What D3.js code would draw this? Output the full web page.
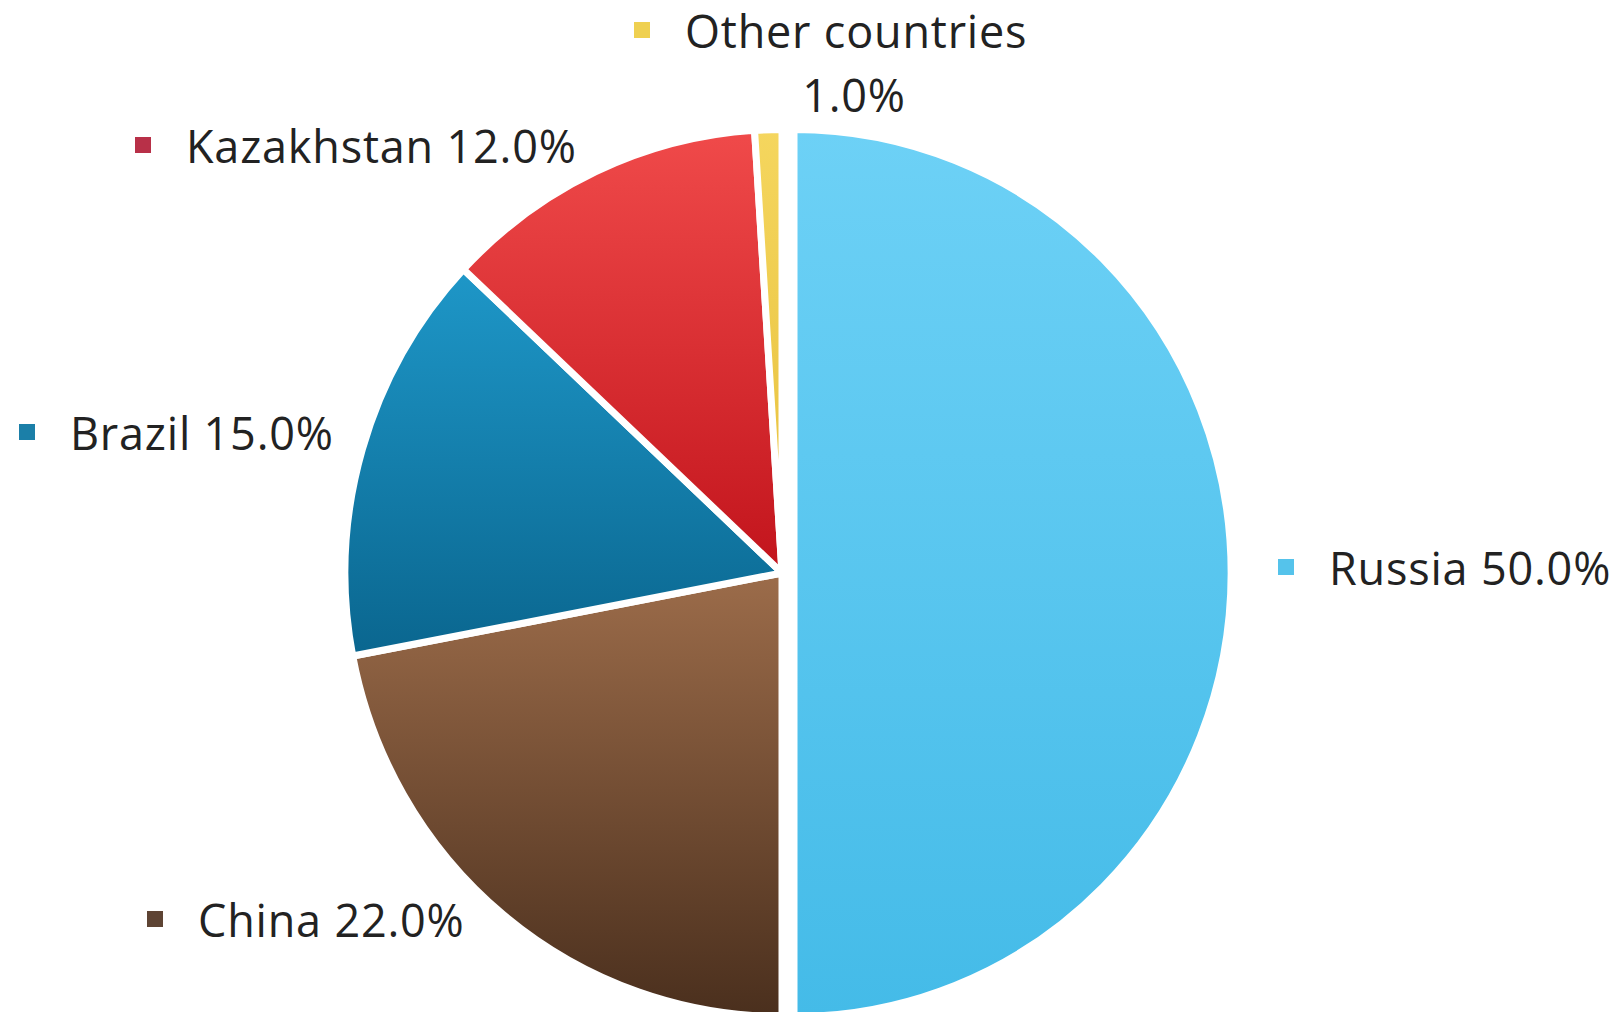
<!DOCTYPE html>
<html>
<head>
<meta charset="utf-8">
<script src="https://cdn.jsdelivr.net/npm/d3@7"></script>
<style>
  html, body { margin: 0; padding: 0; background: #ffffff; }
  svg { display: block; }
</style>
</head>
<body>
<svg id="chart" width="1620" height="1012"></svg>
<script>
// Share by country (percent), in drawing order clockwise from 12 o'clock
const categories = ["Russia", "China", "Brazil", "Kazakhstan", "Other countries"];
const values = [50.0, 22.0, 15.0, 12.0, 1.0];

// Slice fills: top and bottom stops of each vertical gradient
const colorTop    = ["#6dd1f6", "#9c6c4a", "#1e97c8", "#f04a4a", "#f5d65e"];
const colorBottom = ["#44bbe8", "#4a2f1d", "#0a668f", "#c2141c", "#e6bf3a"];
const markerColor = ["#55c3eb", "#5e4434", "#1b7fa8", "#b83048", "#efd050"];

// Label placement (text start x, baseline y) per category
const labelLayout = {
  "Russia":          { x: 1329, y: 585 },
  "China":           { x: 198,  y: 937 },
  "Brazil":          { x: 70,   y: 450 },
  "Kazakhstan":      { x: 186,  y: 163 },
  "Other countries": { x: 685,  y: 48, x2: 854, y2: 112 }
};

const svg = d3.select("#chart");
const cx = 782, cy = 573;
const radius = 437;
const yStretch = 1.015;
const explode = [12, 0, 0, 0, 0];

const data = categories.map((c, i) => ({ name: c, value: values[i], i }));
const pie = d3.pie().sort(null).value(d => d.value);
const arc = d3.arc().innerRadius(0).outerRadius(radius);
const arcs = pie(data);

const defs = svg.append("defs");
arcs.forEach(a => {
  const g = defs.append("linearGradient")
    .attr("id", "grad" + a.data.i)
    .attr("x1", 0).attr("y1", 0).attr("x2", 0).attr("y2", 1);
  g.append("stop").attr("offset", "0%").attr("stop-color", colorTop[a.data.i]);
  g.append("stop").attr("offset", "100%").attr("stop-color", colorBottom[a.data.i]);
});

const pieG = svg.append("g")
  .attr("transform", `translate(${cx},${cy}) scale(1,${yStretch})`);

pieG.selectAll("path.slice")
  .data(arcs)
  .join("path")
  .attr("class", "slice")
  .attr("transform", a => {
    const mid = (a.startAngle + a.endAngle) / 2;
    const off = explode[a.data.i];
    return `translate(${off * Math.sin(mid)},${-off * Math.cos(mid)})`;
  })
  .attr("d", arc)
  .attr("fill", a => `url(#grad${a.data.i})`)
  .attr("stroke", "#ffffff")
  .attr("stroke-width", 7)
  .attr("stroke-linejoin", "miter");

// Category labels with colour markers
const fmt = v => v.toFixed(1) + "%";
const labels = svg.append("g")
  .attr("font-family", "'Open Sans', sans-serif")
  .attr("font-size", 45)
  .attr("letter-spacing", "0.8px")
  .attr("fill", "#222222");

data.forEach(d => {
  const L = labelLayout[d.name];
  labels.append("rect")
    .attr("x", L.x - 51).attr("y", L.y - 26)
    .attr("width", 16).attr("height", 16)
    .attr("fill", markerColor[d.i]);
  if (L.x2 !== undefined) {
    labels.append("text").attr("x", L.x).attr("y", L.y).text(d.name);
    labels.append("text").attr("x", L.x2).attr("y", L.y2)
      .attr("text-anchor", "middle").text(fmt(d.value));
  } else {
    labels.append("text").attr("x", L.x).attr("y", L.y)
      .text(d.name + " " + fmt(d.value));
  }
});
</script>
</body>
</html>
